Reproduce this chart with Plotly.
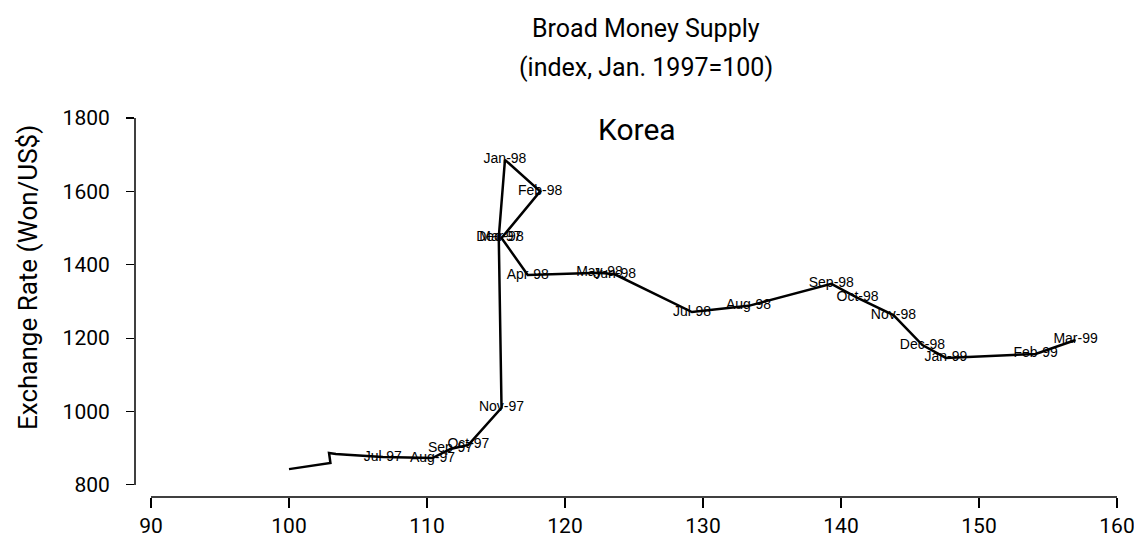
import plotly.graph_objects as go

months = ["Jan-97", "Feb-97", "Mar-97", "Apr-97", "May-97", "Jun-97",
          "Jul-97", "Aug-97", "Sep-97", "Oct-97", "Nov-97", "Dec-97",
          "Jan-98", "Feb-98", "Mar-98", "Apr-98", "May-98", "Jun-98",
          "Jul-98", "Aug-98", "Sep-98", "Oct-98", "Nov-98", "Dec-98",
          "Jan-99", "Feb-99", "Mar-99"]
money_index = [100.0, 103.0, 102.9, 103.4, 104.2, 105.3,
               106.8, 110.4, 111.7, 113.0, 115.4, 115.2,
               115.65, 118.2, 115.4, 117.3, 122.5, 123.6,
               129.2, 133.3, 139.3, 141.2, 143.8, 145.9,
               147.6, 154.1, 157.0]
exchange_rate = [843, 860, 887, 884, 882, 879,
                 876, 873, 898, 909, 1010, 1475,
                 1686, 1600, 1473, 1372, 1378, 1374,
                 1271, 1288, 1348, 1310, 1263, 1181,
                 1146, 1157, 1195]
labelled_from = 6
point_labels = [m if i >= labelled_from else "" for i, m in enumerate(months)]

x_ticks = [90, 100, 110, 120, 130, 140, 150, 160]
y_ticks = [800, 1000, 1200, 1400, 1600, 1800]

W, H = 1134, 559
ML, MR, MT, MB = 135, 17, 118, 62
PW, PH = W - ML - MR, H - MT - MB

def px_x(px):
    return (px - ML) / PW

def px_y(py):
    return (H - MB - py) / PH

fig = go.Figure()
fig.add_trace(go.Scatter(
    x=money_index, y=exchange_rate, text=point_labels,
    mode="lines+text", textposition="middle center",
    line=dict(color="black", width=2.5),
    textfont=dict(family="Liberation Sans, Arial, sans-serif", size=14, color="black"),
    showlegend=False, cliponaxis=False, hoverinfo="skip",
))

fig.update_layout(
    width=W, height=H,
    margin=dict(l=ML, r=MR, t=MT, b=MB, autoexpand=False),
    plot_bgcolor="white", paper_bgcolor="white",
    font=dict(family="Roboto, sans-serif", color="black"),
    xaxis=dict(range=[88.84, 160], tickvals=x_ticks, showgrid=False, zeroline=False,
               showline=False, ticks="outside", ticklen=10, tickcolor="black", tickwidth=1.2,
               automargin=False, ticklabeloverflow="allow",
               tickfont=dict(size=21, family="Roboto, sans-serif")),
    yaxis=dict(range=[767, 1800], tickvals=y_ticks, showgrid=False, zeroline=False,
               showline=False, ticks="outside", ticklen=8, tickcolor="black", tickwidth=1.2,
               automargin=False, ticklabelstandoff=12, ticklabeloverflow="allow",
               tickfont=dict(size=21, family="Roboto, sans-serif")),
    shapes=[
        dict(type="line", xref="paper", yref="y", x0=0, x1=0, y0=800, y1=1800,
             line=dict(color="black", width=1.5)),
        dict(type="line", xref="x", yref="paper", x0=90, x1=160, y0=0, y1=0,
             line=dict(color="black", width=1.5)),
    ],
    annotations=[
        dict(text="Broad Money Supply", xref="paper", yref="paper",
             x=px_x(646), y=px_y(29), xanchor="center", yanchor="middle",
             showarrow=False, font=dict(size=25, family="Roboto, sans-serif")),
        dict(text="(index, Jan. 1997=100)", xref="paper", yref="paper",
             x=px_x(646), y=px_y(67), xanchor="center", yanchor="middle",
             showarrow=False, font=dict(size=25, family="Roboto, sans-serif")),
        dict(text="Korea", xref="paper", yref="paper",
             x=px_x(637), y=px_y(129), xanchor="center", yanchor="middle",
             showarrow=False, font=dict(size=30, family="Roboto, sans-serif")),
        dict(text="Exchange Rate (Won/US$)", xref="paper", yref="paper",
             x=px_x(28), y=px_y(278), xanchor="center", yanchor="middle",
             textangle=-90, showarrow=False,
             font=dict(size=26, family="Roboto, sans-serif")),
    ],
)

fig.write_html("out.html", config={"displayModeBar": False, "staticPlot": True},
               post_script="document.body.style.margin='0';document.body.style.overflow='hidden';")
